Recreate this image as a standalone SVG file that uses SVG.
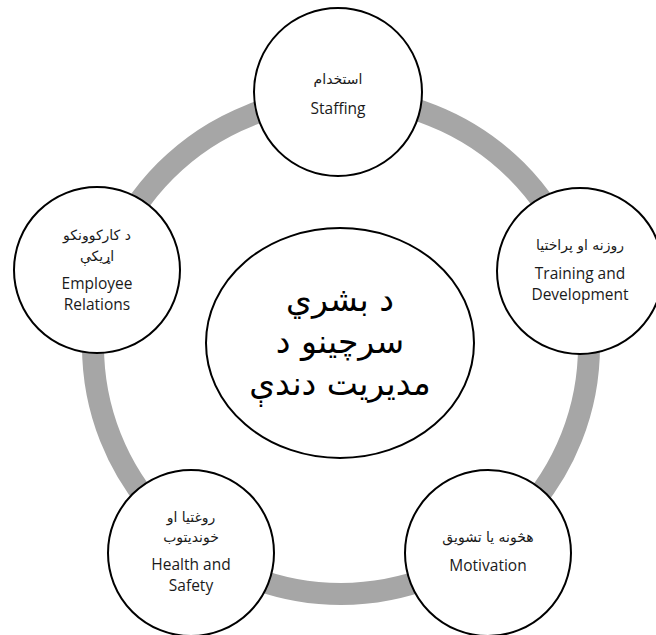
<svg xmlns="http://www.w3.org/2000/svg" width="656" height="635" viewBox="0 0 656 635">
  <style>
    .ring { fill: none; stroke: #A6A6A6; stroke-width: 22; }
    .node { fill: #FFFFFF; stroke: #000000; stroke-width: 2; }
    .en { font-family: "Open Sans", "Liberation Sans", sans-serif; font-size: 15.5px; fill: #1A1A1A; text-anchor: middle; }
    .ps { font-family: "DejaVu Sans", "Liberation Sans", sans-serif; font-size: 14px; fill: #1A1A1A; text-anchor: middle; }
    .hub { font-family: "DejaVu Sans", "Liberation Sans", sans-serif; font-size: 33px; fill: #000000; text-anchor: middle; }
  </style>
  <rect width="656" height="635" fill="#FFFFFF"/>

  <!-- cycle ring linking the five areas -->
  <g id="connectors">
    <circle class="ring" cx="341" cy="346" r="248"/>
  </g>

  <!-- central topic -->
  <g id="hub">
    <ellipse class="node" cx="340" cy="343" rx="134" ry="115"/>
    <text class="hub" x="340" y="311">د بشري</text>
    <text class="hub" x="340" y="353">سرچينو د</text>
    <text class="hub" x="340" y="395">مديريت دندې</text>
  </g>

  <g id="staffing">
    <circle class="node" cx="338" cy="92" r="84"/>
    <text class="ps" x="338" y="84">استخدام</text>
    <text class="en" x="338" y="114">Staffing</text>
  </g>

  <g id="training">
    <circle class="node" cx="580" cy="271" r="83"/>
    <text class="ps" x="580" y="250">روزنه او پراختيا</text>
    <text class="en" x="580" y="279">Training and</text>
    <text class="en" x="580" y="300">Development</text>
  </g>

  <g id="motivation">
    <circle class="node" cx="488" cy="553" r="83"/>
    <text class="ps" x="488" y="542">هڅونه يا تشويق</text>
    <text class="en" x="488" y="571">Motivation</text>
  </g>

  <g id="health">
    <circle class="node" cx="191" cy="553" r="83"/>
    <text class="ps" x="191" y="522">روغتيا او</text>
    <text class="ps" x="191" y="542">خونديتوب</text>
    <text class="en" x="191" y="570">Health and</text>
    <text class="en" x="191" y="591">Safety</text>
  </g>

  <g id="relations">
    <circle class="node" cx="97" cy="270" r="83"/>
    <text class="ps" x="97" y="240">د کارکوونکو</text>
    <text class="ps" x="97" y="261">اړيکې</text>
    <text class="en" x="97" y="289">Employee</text>
    <text class="en" x="97" y="310">Relations</text>
  </g>
</svg>
